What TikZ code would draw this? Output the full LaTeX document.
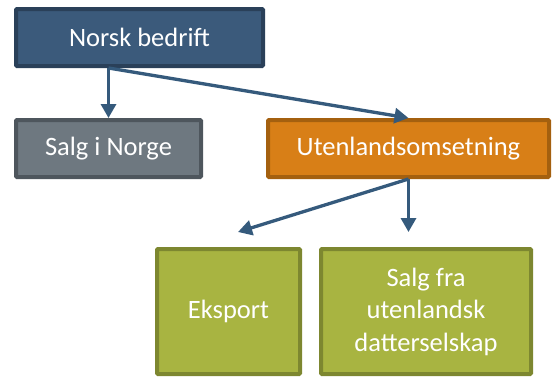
\documentclass[tikz,border=0pt]{standalone}
\usepackage{fontspec}
\setmainfont{Carlito}
\usetikzlibrary{arrows.meta}
\definecolor{navyfill}{HTML}{3B5A7B}
\definecolor{navyline}{HTML}{2A4059}
\definecolor{greyfill}{HTML}{6E7880}
\definecolor{greyline}{HTML}{4E565D}
\definecolor{orfill}{HTML}{D87F17}
\definecolor{orline}{HTML}{A4600F}
\definecolor{grfill}{HTML}{A8B441}
\definecolor{grline}{HTML}{7D8730}
\definecolor{arrowc}{HTML}{355A7C}
\begin{document}
\begin{tikzpicture}[x=1pt,y=-1pt,
  boxstyle/.style={draw, line width=4pt, rounded corners=1pt, inner sep=0pt,
    text=white, align=center, font=\fontsize{26.5}{32.5}\selectfont},
  navybox/.style={boxstyle, fill=navyfill, draw=navyline},
  greybox/.style={boxstyle, fill=greyfill, draw=greyline},
  orbox/.style={boxstyle, fill=orfill, draw=orline},
  grbox/.style={boxstyle, fill=grfill, draw=grline},
  conn/.style={draw=arrowc, line width=3.3pt, -{Triangle[length=14pt,width=15pt]}}]
\useasboundingbox (0,0) rectangle (552,376);
\node[navybox, minimum width=247pt, minimum height=57pt] (norsk) at (139.5,37.5) {Norsk bedrift};
\node[greybox, minimum width=185pt, minimum height=57pt] (norge) at (108.5,148.5) {Salg i Norge};
\node[orbox, minimum width=281pt, minimum height=57pt] (utl) at (408.5,148.5) {Utenlandsomsetning};
\node[grbox, minimum width=143pt, minimum height=125pt] (eksport) at (228.5,311.5) {Eksport};
\node[grbox, minimum width=210pt, minimum height=125pt] (datter) at (426,311.5) {Salg fra\\utenlandsk\\datterselskap};
\coordinate (eksEnd) at (238,232);
\coordinate (datEnd) at (408.5,232);
\draw[conn] (norge.north |- norsk.south) -- (norge.north);
\draw[conn] (norge.north |- norsk.south) -- (utl.north);
\draw[conn] (utl.south) -- (eksEnd);
\draw[conn] (utl.south) -- (datEnd);
\end{tikzpicture}
\end{document}
